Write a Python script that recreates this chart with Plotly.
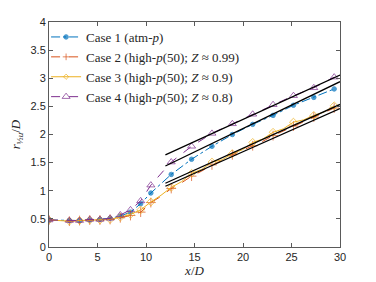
import numpy as np
import plotly.graph_objects as go

# ---- data ----
x_pts = [0, 2.1, 3.15, 4.2, 5.25, 6.3, 7.35, 8.4, 9.45, 10.5, 12.6, 14.7, 16.8, 18.9, 21.0, 23.1, 25.2, 27.3, 29.4]
case1 = [0.48, 0.47, 0.47, 0.48, 0.49, 0.51, 0.55, 0.62, 0.77, 0.96, 1.29, 1.56, 1.79, 2.00, 2.18, 2.34, 2.52, 2.66, 2.81]
case2 = [0.48, 0.46, 0.47, 0.48, 0.48, 0.49, 0.52, 0.56, 0.62, 0.79, 1.04, 1.26, 1.46, 1.64, 1.80, 1.98, 2.15, 2.31, 2.47]
case3 = [0.48, 0.46, 0.47, 0.48, 0.48, 0.49, 0.53, 0.58, 0.66, 0.80, 1.06, 1.31, 1.51, 1.66, 1.86, 2.04, 2.22, 2.34, 2.51]
case4 = [0.48, 0.47, 0.47, 0.49, 0.49, 0.51, 0.57, 0.66, 0.82, 1.10, 1.51, 1.79, 2.02, 2.19, 2.36, 2.53, 2.69, 2.83, 3.02]

# intermediate (unmarked) samples of the far field for cases 2 and 3
x_mid = [11.55, 13.65, 15.75, 17.85, 19.95, 22.05, 24.15, 26.25, 28.35]
case2_mid = [0.90, 1.14, 1.35, 1.54, 1.72, 1.88, 2.06, 2.22, 2.38]
case3_mid = [0.92, 1.16, 1.38, 1.55, 1.73, 1.92, 2.10, 2.26, 2.40]

# linear far-field fits: r = slope * x + intercept, drawn over fit_range
fit_range = [12.0, 30.0]
fit_slope = [0.0833, 0.0767, 0.0778, 0.0789]
fit_icpt = [0.44, 0.16, 0.20, 0.69]

names = ["Case 1 (atm-<i>p</i>)",
         "Case 2 (high-<i>p</i>(50); <i>Z</i> ≈ 0.99)",
         "Case 3 (high-<i>p</i>(50); <i>Z</i> ≈ 0.9)",
         "Case 4 (high-<i>p</i>(50); <i>Z</i> ≈ 0.8)"]
colors = ["#0072BD", "#D95319", "#EDB120", "#7E2F8E"]
dashes = ["dashdot", "dash", "solid", "dash"]
symbols = ["circle", "cross-thin-open", "diamond-open", "triangle-up-open"]
msizes = [4.5, 7, 6, 7]

SERIF = "Liberation Serif, Times New Roman, serif"
SANS = "Liberation Sans, Arial, sans-serif"


def merge(xa, ya, xb, yb, size):
    pts = [(x, y, size) for x, y in zip(xa, ya)] + [(x, y, 0) for x, y in zip(xb, yb)]
    pts.sort(key=lambda p: p[0])
    return [p[0] for p in pts], [p[1] for p in pts], [p[2] for p in pts]


series = [
    (x_pts, case1, [msizes[0]] * len(x_pts)),
    merge(x_pts, case2, x_mid, case2_mid, msizes[1]),
    merge(x_pts, case3, x_mid, case3_mid, msizes[2]),
    (x_pts, case4, [msizes[3]] * len(x_pts)),
]

fig = go.Figure()
for i, (xs, ys, ss) in enumerate(series):
    fig.add_trace(go.Scatter(
        x=xs, y=ys, mode="lines+markers", name=names[i],
        line=dict(color=colors[i], width=1, dash=dashes[i]),
        marker=dict(symbol=symbols[i], size=ss, color=colors[i],
                    line=dict(color=colors[i], width=1)),
    ))

xf = np.array(fit_range)
for s, b in zip(fit_slope, fit_icpt):
    fig.add_trace(go.Scatter(x=xf, y=s * xf + b, mode="lines",
                             line=dict(color="black", width=1.3),
                             showlegend=False, hoverinfo="skip"))

axis_common = dict(showline=True, linecolor="#5a5a5a", linewidth=1, mirror="ticks",
                   ticks="inside", ticklen=4, tickcolor="#5a5a5a", showgrid=False,
                   zeroline=False, automargin=False,
                   tickfont=dict(family=SANS, size=11, color="#262626"))

# the page body adds an 8px offset, so the figure is 8px smaller than the window
fig.update_layout(
    width=368, height=274,
    margin=dict(l=41, r=36, t=14, b=35),
    paper_bgcolor="white", plot_bgcolor="white",
    showlegend=True,
    legend=dict(x=-0.01, y=1.0, xanchor="left", yanchor="top",
                bgcolor="rgba(255,255,255,0)", borderwidth=0,
                font=dict(family=SERIF, size=13, color="#262626"),
                itemwidth=30, tracegroupgap=0),
    xaxis=dict(range=[0, 30], tickvals=[0, 5, 10, 15, 20, 25, 30],
               title=dict(text="<i>x</i>/<i>D</i>", standoff=2,
                          font=dict(family=SERIF, size=13, color="#262626")),
               **axis_common),
    yaxis=dict(range=[0, 4], tickvals=[0, 0.5, 1, 1.5, 2, 2.5, 3, 3.5, 4],
               ticktext=["0", "0.5", "1", "1.5", "2", "2.5", "3", "3.5", "4"],
               title=dict(text="<i>r</i><sub>½<i>u</i></sub>/<i>D</i>", standoff=8,
                          font=dict(family=SERIF, size=13, color="#262626")),
               **axis_common),
)

fig.write_html("out.html")
